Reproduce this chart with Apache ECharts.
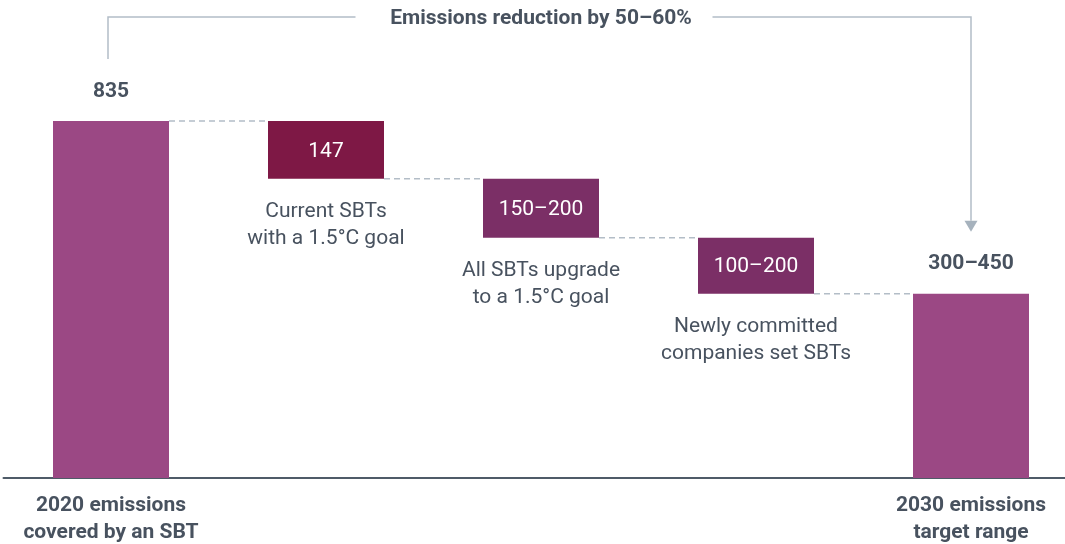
<!DOCTYPE html>
<html>
<head>
<meta charset="utf-8">
<script src="https://cdn.jsdelivr.net/npm/echarts@6/dist/echarts.min.js"></script>
<style>
  html, body { margin: 0; padding: 0; background: #fff; }
  #chart { width: 1065px; height: 544px; }
</style>
</head>
<body>
<div id="chart"></div>
<script>
// ---- data ----
const categories = [
  '2020 emissions\ncovered by an SBT',
  'Current SBTs\nwith a 1.5°C goal',
  'All SBTs upgrade\nto a 1.5°C goal',
  'Newly committed\ncompanies set SBTs',
  '2030 emissions\ntarget range'
];
const barBottom = [0, 700, 562, 431, 0];
const barTop = [835, 835, 700, 562, 431];
const valueLabels = ['835', '147', '150–200', '100–200', '300–450'];
const connectorLevels = [835, 700, 562, 431];
const bracketTitle = 'Emissions reduction by 50–60%';

// ---- styles ----
const TEXT = '#48525f';
const GUIDE = '#b3bdc7';
const FONT = 'Roboto, "Noto Sans", sans-serif';
const colorsByBar = ['#9b4884', '#7e1845', '#7b2f66', '#7b2f66', '#9b4884'];
const BAR_W = 116;
const FS = 21;

const chart = echarts.init(document.getElementById('chart'), null, { renderer: 'canvas' });

const isTotal = i => i === 0 || i === categories.length - 1;

const baseData = barBottom.map((v, i) => ({
  value: v,
  label: {
    show: !isTotal(i),
    position: 'insideTop',
    distance: 20,
    formatter: categories[i],
    color: TEXT,
    fontSize: FS,
    lineHeight: 27,
    fontFamily: FONT
  }
}));

const deltaData = barTop.map((t, i) => ({
  value: t - barBottom[i],
  itemStyle: { color: colorsByBar[i] },
  label: isTotal(i) ? {
    show: true,
    position: 'top',
    distance: i === 0 ? 18.5 : 19.5,
    formatter: valueLabels[i],
    color: TEXT,
    fontSize: FS,
    fontWeight: 'bold',
    fontFamily: FONT
  } : {
    show: true,
    position: 'inside',
    offset: [0, 1.5],
    formatter: valueLabels[i],
    color: '#ffffff',
    fontSize: FS,
    fontFamily: FONT
  }
}));

const connectorData = connectorLevels.map((lv, i) => [i, lv]);

chart.setOption({
  animation: false,
  backgroundColor: '#ffffff',
  textStyle: { fontFamily: FONT },
  grid: {
    left: 3.5, top: 121, width: 1075, height: 357,
    containLabel: false,
    outerBoundsMode: 'none'
  },
  xAxis: {
    type: 'category',
    data: categories,
    axisTick: { show: false },
    axisLine: { lineStyle: { color: '#4f5b68', width: 2 } },
    axisLabel: {
      interval: 0,
      margin: 14,
      color: TEXT,
      fontSize: FS,
      fontWeight: 'bold',
      lineHeight: 27,
      fontFamily: FONT,
      formatter: (v, idx) => isTotal(idx) ? v : ''
    }
  },
  yAxis: {
    type: 'value',
    min: 0,
    max: 835,
    show: false,
    splitLine: { show: false }
  },
  series: [
    {
      type: 'bar',
      stack: 'w',
      barWidth: BAR_W,
      silent: true,
      itemStyle: { color: 'rgba(0,0,0,0)' },
      emphasis: { disabled: true },
      data: baseData,
      z: 3
    },
    {
      type: 'bar',
      stack: 'w',
      barWidth: BAR_W,
      silent: true,
      emphasis: { disabled: true },
      data: deltaData,
      z: 3
    },
    {
      type: 'custom',
      silent: true,
      z: 2,
      data: connectorData,
      renderItem: function (params, api) {
        const i = api.value(0);
        const lv = api.value(1);
        const a = api.coord([i, lv]);
        const b = api.coord([i + 1, lv]);
        return {
          type: 'line',
          shape: { x1: a[0] + BAR_W / 2, y1: a[1], x2: b[0] - BAR_W / 2, y2: b[1] },
          style: { stroke: GUIDE, lineWidth: 1.5, lineDash: [6, 4] }
        };
      }
    }
  ]
});

// ---- bracket annotation ----
const xFirst = chart.convertToPixel({ xAxisIndex: 0 }, 0);
const xLast = chart.convertToPixel({ xAxisIndex: 0 }, categories.length - 1);
const yTopBar = chart.convertToPixel({ yAxisIndex: 0 }, barTop[0]);
const yLastTop = chart.convertToPixel({ yAxisIndex: 0 }, barTop[barTop.length - 1]);
const midX = (xFirst + xLast) / 2;
const yLine = 17;

chart.setOption({
  graphic: [
    {
      type: 'polyline',
      silent: true,
      shape: { points: [[xFirst - 3, yTopBar - 62], [xFirst - 3, yLine], [midX - 185.5, yLine]] },
      style: { stroke: GUIDE, lineWidth: 1.5, fill: null }
    },
    {
      type: 'text',
      silent: true,
      x: midX, y: yLine + 2,
      style: {
        text: bracketTitle,
        align: 'center',
        verticalAlign: 'middle',
        fill: TEXT,
        font: 'bold ' + FS + 'px ' + FONT
      }
    },
    {
      type: 'polyline',
      silent: true,
      shape: { points: [[midX + 171.5, yLine], [xLast, yLine], [xLast, yLastTop - 73]] },
      style: { stroke: GUIDE, lineWidth: 1.5, fill: null }
    },
    {
      type: 'polygon',
      silent: true,
      shape: { points: [[xLast - 6.5, yLastTop - 73], [xLast + 6.5, yLastTop - 73], [xLast, yLastTop - 62]] },
      style: { fill: '#a6b2bd' }
    }
  ]
});
</script>
</body>
</html>
